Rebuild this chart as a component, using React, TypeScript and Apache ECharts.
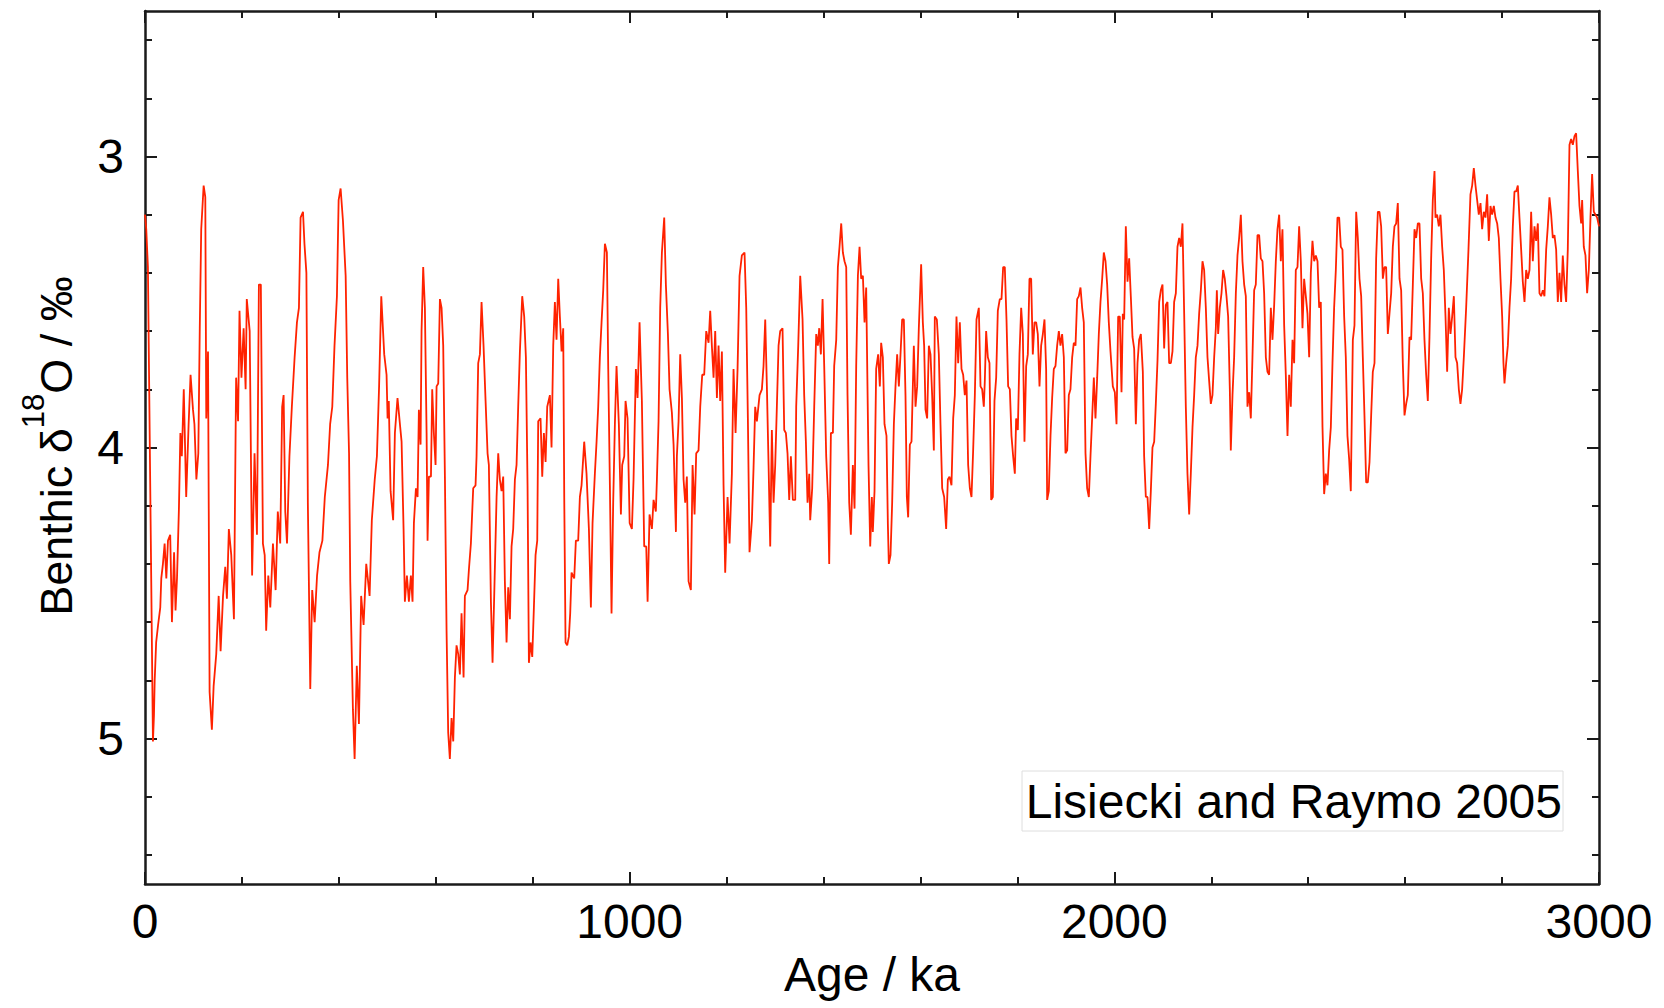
import React, { useEffect, useRef } from "react";
import * as echarts from "echarts";

// Age (ka) ticks and benthic d18O ticks
const ageMin = 0;
const ageMax = 3000;
const ageStep = 1000;
const d18oMin = 2.5;
const d18oMax = 5.5;
const d18oMajorTicks = [3, 4, 5];
const d18oMinorTicks = [2.6, 2.8, 3, 3.2, 3.4, 3.6, 3.8, 4, 4.2, 4.4, 4.6, 4.8, 5, 5.2, 5.4];

// LR04 benthic stack: [age ka, d18O permil]
const lr04_0_500 = [
  [0, 3.2], [2.6, 3.25], [6, 3.38], [16.4, 5.01], [18.5, 4.92], [20, 4.8], [23, 4.67], [27, 4.61], [31.5, 4.55],
  [33.6, 4.45], [37, 4.4], [40.5, 4.33], [44, 4.45], [47.4, 4.32], [52, 4.3], [55.6, 4.6], [60, 4.36],
  [63, 4.56], [66, 4.45], [70, 4.21], [73, 3.95], [76, 4.03], [80, 3.8], [85, 4.17], [90, 3.92], [94, 3.75],
  [99, 3.87], [102, 3.92], [106, 4.11], [110, 4.02], [113, 3.59], [116, 3.25], [121, 3.1], [124.4, 3.14],
  [126.4, 3.9], [130, 3.67], [133.3, 4.84], [138, 4.97], [141.6, 4.82], [147, 4.71], [152, 4.51], [156, 4.7],
  [161, 4.51], [165.6, 4.41], [169, 4.52], [173, 4.28], [178, 4.37], [183.5, 4.59], [188, 3.76], [192, 3.91],
  [195, 3.53], [199, 3.76], [203.5, 3.59], [207.6, 3.8], [210, 3.49], [216, 3.6], [221, 4.44], [226, 4.02],
  [231, 4.3], [235, 3.44], [239, 3.44], [243.3, 4.33], [247, 4.37], [250, 4.63], [254.4, 4.44], [258.5, 4.55],
  [264, 4.33], [269.5, 4.49], [274, 4.22], [279, 4.33], [283, 3.86], [286, 3.82], [289.4, 4.22], [293, 4.33],
  [298, 4.03], [303, 3.86], [308.7, 3.69], [313.5, 3.57], [317.6, 3.52], [321, 3.21], [326, 3.19], [329, 3.3],
  [333, 3.4], [336, 4.19], [341, 4.83], [345, 4.49], [350, 4.6], [355, 4.44], [360, 4.36], [366, 4.32],
  [371, 4.17], [377.5, 4.06], [382, 3.92], [386.4, 3.86], [391, 3.65], [396, 3.48], [399.5, 3.15], [403.6, 3.11],
  [408.4, 3.22], [414, 3.41], [417.3, 3.76], [421, 4.02], [423.5, 4.46], [429, 4.9], [432.5, 5.07], [437, 4.75],
  [441.4, 4.95], [446, 4.51], [451, 4.61], [456.5, 4.4], [463.4, 4.51], [468, 4.25], [474, 4.11], [478.5, 4.03],
  [483, 3.79], [487.5, 3.48],
];

const lr04_500_1000 = [
  [493.6, 3.68], [498.4, 3.75], [500.5, 3.9], [503, 3.84], [506.7, 4.15], [512, 4.25], [515.6, 3.95], [521, 3.83],
  [526, 3.92], [529.4, 3.98], [533.5, 4.28], [536.2, 4.53], [540.4, 4.44], [544.5, 4.53], [548.6, 4.44], [552, 4.53],
  [554.8, 4.26], [559, 4.14], [562.4, 4.17], [565.1, 3.87], [568.6, 3.99], [570.6, 3.6], [574, 3.38], [577.5, 3.52],
  [581, 3.95], [583, 4.32], [585.8, 4.1], [590, 4.1], [592.6, 3.8], [596, 3.95], [599.5, 4.06], [601.6, 3.79],
  [605, 3.78], [608.5, 3.49], [611.9, 3.52], [615.3, 3.65], [618.8, 4.1], [622.2, 4.63], [625.6, 4.98], [629, 5.07],
  [632.5, 4.93], [636, 5.01], [639.4, 4.79], [642.8, 4.68], [646.3, 4.71], [649.7, 4.78], [653.1, 4.57], [657.3, 4.79],
  [660, 4.51], [665.5, 4.49], [668.3, 4.42], [672.4, 4.33], [677.2, 4.14], [682, 4.13], [684.1, 4.03], [687.5, 3.71],
  [691, 3.68], [694.4, 3.5], [698.5, 3.65], [702.7, 3.84], [706.8, 4.02], [709.5, 4.06], [713.7, 4.53], [717.1, 4.74],
  [720.5, 4.51], [725.4, 4.17], [728.8, 4.02], [732.2, 4.11], [735.7, 4.15], [739.1, 4.1], [742.5, 4.46], [746, 4.67],
  [749.4, 4.48], [752.9, 4.59], [756.3, 4.34], [759.7, 4.28], [763.2, 4.11], [766.6, 4.06], [770, 3.86], [773.5, 3.67],
  [778.3, 3.48], [782.4, 3.55], [785.9, 3.69], [789.3, 4.13], [792.1, 4.74], [795.5, 4.67], [799, 4.72], [802.4, 4.55],
  [805.8, 4.37], [809.3, 4.32], [811.3, 3.91], [816.1, 3.9], [819.6, 4.1], [823, 3.95], [826.5, 4.05], [829.9, 3.86],
  [835.4, 3.82], [838.8, 4.0], [842.3, 3.65], [845.7, 3.5], [849.1, 3.63], [852.6, 3.42], [856, 3.55], [859.5, 3.67],
  [862.9, 3.59], [865, 4.17], [867.7, 4.67], [871.1, 4.68], [874.6, 4.65], [877.3, 4.57], [880.1, 4.43], [885.6, 4.45],
  [889, 4.32], [893.8, 4.32], [897.3, 4.17], [900.7, 4.13], [906.2, 3.98], [911, 4.09], [915.9, 4.28], [920, 4.55],
  [923.4, 4.26], [928.2, 4.09], [931.7, 3.98], [935.1, 3.86], [938.5, 3.69], [942, 3.57], [945.4, 3.46], [948.9, 3.3],
  [953, 3.33], [955.8, 3.73], [959.2, 4.13], [962.6, 4.57], [966, 4.19], [969.5, 3.92], [972.9, 3.72], [977.7, 3.92],
  [981.9, 4.23], [984.6, 4.06], [988.8, 4.03], [991.5, 3.84], [995.6, 3.9],
];

const lr04_1000_1500 = [
  [1000, 4.26], [1004.6, 4.28], [1008, 4.11], [1012.8, 3.73], [1016.3, 3.83], [1020.4, 3.57], [1025.2, 3.84],
  [1030, 4.34], [1034.2, 4.34], [1037, 4.53], [1041, 4.23], [1045.9, 4.28], [1049.3, 4.18], [1054, 4.22],
  [1056.2, 4.11], [1059.6, 3.91], [1063, 3.52], [1066.5, 3.33], [1071.3, 3.21], [1074.7, 3.44], [1078.9, 3.61],
  [1082.3, 3.8], [1087.1, 3.88], [1090.6, 3.99], [1095.4, 4.29], [1097.4, 4.03], [1100.9, 3.91], [1104.3, 3.68],
  [1107.8, 3.83], [1111.2, 4.11], [1114.6, 4.19], [1118, 4.1], [1121.5, 4.46], [1126.3, 4.49], [1129.8, 4.06],
  [1133.9, 4.23], [1137.3, 4.02], [1142.1, 4.01], [1145.6, 3.86], [1149.7, 3.75], [1153.8, 3.75], [1158, 3.6],
  [1162.8, 3.64], [1166.2, 3.53], [1169.6, 3.65], [1173.1, 3.76], [1176.5, 3.6], [1180, 3.83], [1183.4, 3.65],
  [1186.8, 3.84], [1190.3, 3.67], [1193.7, 4.13], [1197.1, 4.43], [1202, 4.17], [1206.1, 4.33], [1210.9, 4.09],
  [1214.3, 3.73], [1218.5, 3.95], [1222.6, 3.73], [1226.7, 3.41], [1231.5, 3.34], [1237, 3.33], [1240.5, 3.52],
  [1243.9, 3.9], [1247.3, 4.36], [1252.2, 4.25], [1255.6, 4.07], [1259, 3.86], [1262.5, 3.91], [1268, 3.82],
  [1272.8, 3.8], [1276.2, 3.72], [1279.7, 3.56], [1283.1, 3.79], [1286.6, 4.06], [1290, 4.34], [1293.4, 3.94],
  [1296.9, 4.19], [1300.3, 4.06], [1303.7, 3.86], [1307.2, 3.65], [1310.6, 3.6], [1315.4, 3.59], [1318.9, 3.94],
  [1322.3, 3.95], [1325.7, 4.02], [1329.2, 4.18], [1332.6, 4.03], [1336.7, 4.18], [1341.6, 4.18], [1343.6, 3.86],
  [1347.8, 3.65], [1351.9, 3.41], [1356.7, 3.56], [1360.1, 3.82], [1363.6, 3.98], [1367, 4.19], [1370.5, 4.09],
  [1372.5, 4.25], [1376.6, 4.14], [1380.8, 3.86], [1384.9, 3.61], [1388.3, 3.65], [1391.1, 3.59], [1394.5, 3.68],
  [1398, 3.49], [1401.4, 3.72], [1405.5, 4.03], [1409.6, 4.19], [1411.7, 4.4], [1415.2, 3.95], [1419.3, 3.95],
  [1422, 3.72], [1426.2, 3.63], [1429.6, 3.38], [1433, 3.31], [1436.5, 3.23], [1439.9, 3.33], [1443.3, 3.36],
  [1446.8, 3.38], [1449.5, 3.82], [1453, 4.19], [1456.4, 4.3], [1460.5, 4.06], [1464, 4.21], [1467.4, 3.72],
  [1470.9, 3.41], [1474.3, 3.31], [1477.7, 3.42], [1481.2, 3.41], [1484.6, 3.57], [1488, 3.45], [1492.8, 4.06],
  [1496.3, 4.34], [1499.7, 4.17],
];

const lr04_1500_2000 = [
  [1501.7, 4.29], [1505.2, 4.15], [1508.6, 3.73], [1512.7, 3.68], [1516.2, 3.79], [1518.9, 3.64], [1522.4, 3.69],
  [1525.8, 3.92], [1529.9, 3.96], [1532.7, 4.26], [1534.7, 4.4], [1538.2, 4.37], [1541.6, 4.19], [1545.1, 3.92],
  [1548.5, 3.79], [1551.9, 3.68], [1555.4, 3.79], [1558.8, 3.68], [1562.2, 3.56], [1565.7, 3.56], [1569.1, 3.82],
  [1571.9, 4.17], [1574.6, 4.24], [1578.1, 3.99], [1581.5, 3.98], [1586.3, 3.65], [1589.8, 3.86], [1593.2, 3.79],
  [1596.6, 3.59], [1601.4, 3.37], [1604.9, 3.57], [1607.6, 3.65], [1610.4, 3.87], [1613.8, 3.9], [1617.3, 3.65],
  [1620.7, 3.68], [1624.1, 3.82], [1627.6, 4.01], [1629.6, 3.55], [1633.8, 3.56], [1637.9, 3.68], [1641.3, 3.92],
  [1644.8, 4.14], [1648.9, 4.17], [1653, 4.28], [1656.5, 4.11], [1659.9, 4.1], [1664, 4.13], [1667.5, 3.9],
  [1670.9, 3.82], [1674.3, 3.55], [1677.8, 3.71], [1681.2, 3.57], [1684.7, 3.73], [1688.1, 3.75], [1691.5, 3.82],
  [1695, 3.77], [1698.4, 4.06], [1701.9, 4.14], [1705.3, 4.17], [1708.7, 4.01], [1712.2, 3.82], [1715.6, 3.56],
  [1720.4, 3.52], [1723.9, 3.79], [1727.3, 3.8], [1730.7, 3.86], [1732.8, 3.77], [1735.5, 3.6], [1739, 3.69],
  [1742.4, 3.71], [1745.9, 4.18], [1749.3, 4.17], [1752.7, 3.84], [1756.2, 3.76], [1759.6, 3.53], [1763.7, 3.49],
  [1767.2, 3.49], [1770.6, 3.38], [1774, 3.38], [1777.5, 3.56], [1780.9, 3.79], [1784.4, 3.8], [1787.8, 3.96],
  [1791.2, 4.03], [1794.7, 4.09], [1797.4, 3.9], [1800.9, 3.94], [1804.3, 3.68], [1807.8, 3.52], [1811.2, 3.61],
  [1814.6, 3.98], [1818.1, 3.72], [1821.5, 3.68], [1824.9, 3.42], [1828.4, 3.42], [1831.8, 3.68], [1835.3, 3.57],
  [1838.7, 3.57], [1842.1, 3.61], [1845.6, 3.79], [1849, 3.65], [1852.5, 3.61], [1855.9, 3.56], [1859.3, 3.73],
  [1861.4, 4.18], [1864.8, 4.15], [1868.3, 3.96], [1871.7, 3.83], [1875.1, 3.73], [1878.6, 3.72], [1882, 3.65],
  [1885.5, 3.6], [1888.9, 3.65], [1892.3, 3.61], [1895.8, 3.69], [1899.2, 4.02], [1902.7, 4.01], [1906.1, 3.82],
  [1909.5, 3.8], [1913, 3.69], [1916.4, 3.64], [1919.9, 3.65], [1923.3, 3.49], [1926.7, 3.48], [1930.2, 3.45],
  [1933.6, 3.52], [1937, 3.57], [1940.5, 4.02], [1943.9, 4.14], [1947.4, 4.17], [1950.8, 4.03], [1954.2, 3.9],
  [1957.7, 3.76], [1961.1, 3.9], [1964.6, 3.76], [1968, 3.61], [1971.4, 3.5], [1974.9, 3.42], [1978.3, 3.33],
  [1981.8, 3.36], [1985.2, 3.44], [1988.6, 3.57], [1992.1, 3.67], [1996.9, 3.79],
];

const lr04_2000_2500 = [
  [2001, 3.81], [2004.5, 3.92], [2007.9, 3.55], [2011.3, 3.55], [2014.8, 3.81], [2017.5, 3.54], [2020.3, 3.56],
  [2023.7, 3.24], [2027.2, 3.43], [2030.6, 3.35], [2034, 3.48], [2037.5, 3.62], [2040.9, 3.66], [2044.4, 3.92],
  [2047.8, 3.71], [2051.2, 3.63], [2054.7, 3.61], [2058.8, 3.74], [2061.5, 4.03], [2065, 4.17], [2068.4, 4.17],
  [2071.9, 4.28], [2075.3, 4.15], [2078.7, 4.0], [2082.2, 3.98], [2085.6, 3.85], [2089.1, 3.7], [2092.5, 3.5],
  [2095.9, 3.46], [2099.4, 3.44], [2102.8, 3.66], [2106.2, 3.51], [2109.7, 3.5], [2113.1, 3.71], [2116.6, 3.71],
  [2120, 3.67], [2123.4, 3.5], [2126.9, 3.47], [2130.3, 3.31], [2133.8, 3.28], [2137.2, 3.31], [2140.6, 3.23],
  [2144.1, 3.54], [2147.5, 3.86], [2150.9, 4.09], [2154.4, 4.23], [2157.8, 4.09], [2161.3, 3.93], [2164.7, 3.82],
  [2168.1, 3.69], [2171.6, 3.65], [2175, 3.54], [2178.5, 3.46], [2181.9, 3.36], [2185.3, 3.39], [2188.8, 3.52],
  [2192.2, 3.69], [2195.6, 3.77], [2199.1, 3.85], [2202.5, 3.82], [2206, 3.69], [2209.4, 3.59], [2211.5, 3.46],
  [2214.2, 3.61], [2217.6, 3.52], [2221.1, 3.47], [2224.5, 3.39], [2227.9, 3.42], [2231.4, 3.48], [2234.8, 3.55],
  [2238.3, 3.8], [2240.3, 4.01], [2243.8, 3.82], [2247.2, 3.69], [2250.7, 3.47], [2254.1, 3.34], [2257.5, 3.28],
  [2261, 3.2], [2264.4, 3.36], [2267.9, 3.44], [2271.3, 3.48], [2274.7, 3.86], [2278.2, 3.81], [2281.6, 3.9],
  [2285, 3.69], [2288.5, 3.46], [2291.9, 3.44], [2295.4, 3.27], [2298.8, 3.27], [2302.2, 3.35], [2305.7, 3.36],
  [2309.1, 3.47], [2312.6, 3.69], [2316, 3.74], [2319.4, 3.75], [2322.9, 3.52], [2326.3, 3.63], [2329.8, 3.51],
  [2333.2, 3.36], [2336.6, 3.25], [2340.1, 3.2], [2343.5, 3.36], [2346.9, 3.25], [2350.4, 3.58], [2353.8, 3.75],
  [2357.3, 3.96], [2360.7, 3.75], [2364.1, 3.86], [2367.6, 3.63], [2371, 3.71], [2374.4, 3.39], [2377.9, 3.38],
  [2381.3, 3.24], [2384.8, 3.36], [2388.2, 3.59], [2391.6, 3.42], [2395.1, 3.48], [2398.5, 3.54], [2402, 3.69],
  [2405.4, 3.4], [2408.8, 3.29], [2412.3, 3.36], [2415.7, 3.34], [2419.2, 3.36], [2422.6, 3.52], [2426, 3.5],
  [2429.5, 3.93], [2432.9, 4.16], [2436.3, 4.09], [2439.8, 4.13], [2443.2, 4.01], [2446.7, 3.93], [2450.1, 3.71],
  [2453.5, 3.52], [2457, 3.39], [2460.4, 3.21], [2463.9, 3.21], [2467.3, 3.31], [2470.7, 3.32], [2474.2, 3.55],
  [2477.6, 3.69], [2481, 3.96], [2484.5, 4.04], [2487.9, 4.15],
];

const lr04_2500_3000 = [
  [2492.1, 3.63], [2495.5, 3.58], [2499, 3.19], [2502.4, 3.28], [2505.8, 3.42], [2509.3, 3.48], [2512.7, 3.69],
  [2516.1, 3.89], [2519.6, 4.12], [2523, 4.12], [2526.5, 4.05], [2529.9, 3.89], [2533.3, 3.74], [2536.8, 3.71],
  [2540.2, 3.35], [2543.7, 3.19], [2547.1, 3.19], [2550.5, 3.24], [2554, 3.42], [2557.4, 3.38], [2560.8, 3.38],
  [2564.3, 3.61], [2567.7, 3.54], [2571.2, 3.47], [2574.6, 3.31], [2578, 3.24], [2581.5, 3.23], [2584.9, 3.16],
  [2588.4, 3.42], [2591.8, 3.46], [2595.2, 3.71], [2598.7, 3.89], [2602.1, 3.85], [2605.5, 3.82], [2609, 3.62],
  [2612.4, 3.63], [2615.9, 3.44], [2619.3, 3.25], [2622.7, 3.28], [2626.2, 3.23], [2629.6, 3.23], [2633.1, 3.42],
  [2636.5, 3.47], [2639.9, 3.63], [2643.4, 3.75], [2646.8, 3.84], [2650.2, 3.62], [2653.7, 3.35], [2657.1, 3.15],
  [2660.6, 3.05], [2662.6, 3.21], [2666, 3.2], [2669.5, 3.24], [2672.9, 3.2], [2676.4, 3.31], [2679.8, 3.39],
  [2683.3, 3.55], [2686.7, 3.74], [2690.1, 3.52], [2693.6, 3.61], [2697, 3.55], [2700.5, 3.48], [2703.9, 3.69],
  [2707.3, 3.71], [2710.8, 3.8], [2714.2, 3.85], [2717.6, 3.8], [2721.1, 3.69], [2725.9, 3.52], [2730.7, 3.32],
  [2734.8, 3.13], [2738.3, 3.1], [2741.7, 3.04], [2745.2, 3.1], [2748.6, 3.15], [2752, 3.2], [2755.5, 3.16],
  [2758.9, 3.25], [2762.3, 3.19], [2765.8, 3.21], [2769.2, 3.13], [2772.7, 3.29], [2776.1, 3.17], [2779.5, 3.2],
  [2783, 3.17], [2786.4, 3.21], [2789.9, 3.23], [2793.3, 3.28], [2796.7, 3.42], [2800.2, 3.55], [2802.9, 3.71],
  [2805, 3.78], [2808.4, 3.71], [2811.9, 3.65], [2815.3, 3.52], [2818.7, 3.42], [2822.2, 3.24], [2825.6, 3.12],
  [2829.1, 3.12], [2832.5, 3.1], [2835.9, 3.21], [2839.4, 3.32], [2842.8, 3.43], [2846.3, 3.5], [2849.7, 3.39],
  [2853.1, 3.42], [2856.6, 3.39], [2860, 3.19], [2863.4, 3.36], [2866.9, 3.24], [2870.3, 3.29], [2873.8, 3.23],
  [2877.2, 3.47], [2880.6, 3.48], [2884.1, 3.46], [2887.5, 3.48], [2891, 3.32], [2894.4, 3.24], [2897.8, 3.14],
  [2901.3, 3.2], [2904.7, 3.28], [2908.1, 3.27], [2911.6, 3.32], [2915, 3.5], [2918.5, 3.4], [2921.9, 3.5],
  [2925.3, 3.34], [2928.8, 3.44], [2932.2, 3.5], [2935.6, 3.32], [2939.1, 2.96], [2942.5, 2.94], [2946, 2.96],
  [2949.4, 2.93], [2952.8, 2.92], [2956.3, 3.05], [2959.7, 3.17], [2963.2, 3.23], [2965.2, 3.15], [2968.6, 3.31],
  [2972.1, 3.34], [2975.5, 3.47], [2979, 3.39], [2982.4, 3.21], [2985.8, 3.06], [2989.3, 3.19], [2992.7, 3.2],
  [2996.1, 3.21], [3000, 3.24],
];

const xTitle = "Age / ka";
const yTitleRich = "{a|Benthic δ}{s|18}{a|O / ‰}";
const sourceNote = "Lisiecki and Raymo 2005";

export default function App() {
  const ref = useRef<HTMLDivElement>(null);

  useEffect(() => {
    if (!ref.current) return;
    const chart = echarts.init(ref.current, null, { renderer: "svg" });
    const font = "'Liberation Sans', Arial, Helvetica, sans-serif";
    const ink = "#1a1a1a";
    const data = [
      ...lr04_0_500,
      ...lr04_500_1000,
      ...lr04_1000_1500,
      ...lr04_1500_2000,
      ...lr04_2000_2500,
      ...lr04_2500_3000,
    ];

    const lineStyle = { color: ink, width: 2.5 };
    const tickStyle = { color: ink, width: 2 };

    const xCommon = {
      type: "value",
      min: ageMin,
      max: ageMax,
      interval: ageStep,
      splitLine: { show: false },
      axisLine: { show: true, onZero: false, lineStyle },
      axisTick: { show: true, inside: true, length: 12, lineStyle: tickStyle },
      minorTick: { show: true, splitNumber: 5, length: 7, lineStyle: tickStyle },
    };

    const yCommon = {
      type: "value",
      min: d18oMin,
      max: d18oMax,
      inverse: true,
      splitLine: { show: false },
    };

    const yMinorAxis = (position: string, labels: boolean) => ({
      ...yCommon,
      position,
      axisLine: { show: true, onZero: false, lineStyle },
      axisTick: { show: true, inside: true, length: 7, customValues: d18oMinorTicks, lineStyle: tickStyle },
      axisLabel: labels
        ? {
            show: true,
            customValues: d18oMajorTicks,
            margin: 21,
            fontSize: 48,
            color: "#000",
            fontFamily: font,
            formatter: (v: number) => String(v),
          }
        : { show: false },
    });
    const yMajorAxis = (position: string) => ({
      ...yCommon,
      position,
      axisLine: { show: false, onZero: false },
      axisTick: { show: true, inside: true, length: 12, customValues: d18oMajorTicks, lineStyle: tickStyle },
      axisLabel: { show: false },
    });

    chart.setOption({
      animation: false,
      backgroundColor: "#ffffff",
      grid: { left: 145, right: 65, top: 11, bottom: 124, containLabel: false, outerBoundsMode: "none" },
      xAxis: [
        {
          ...xCommon,
          position: "bottom",
          axisLabel: {
            show: true,
            margin: 13,
            fontSize: 48,
            color: "#000",
            fontFamily: font,
            formatter: (v: number) => String(Math.round(v)),
          },
          name: xTitle,
          nameLocation: "middle",
          nameGap: 66,
          nameTextStyle: { fontSize: 48, color: "#000", fontFamily: font },
        },
        { ...xCommon, position: "top", axisLabel: { show: false } },
      ],
      yAxis: [yMinorAxis("left", true), yMajorAxis("left"), yMinorAxis("right", false), yMajorAxis("right")],
      series: [
        {
          type: "line",
          xAxisIndex: 0,
          yAxisIndex: 0,
          data,
          showSymbol: false,
          symbol: "none",
          clip: true,
          lineStyle: { color: "#ff2200", width: 1.8 },
          emphasis: { disabled: true },
        },
      ],
      graphic: [
        {
          type: "text",
          x: 48,
          y: 446,
          rotation: Math.PI / 2,
          silent: true,
          style: {
            text: yTitleRich,
            align: "center",
            textAlign: "center",
            verticalAlign: "middle",
            textVerticalAlign: "middle",
            fill: "#000",
            rich: {
              a: { fontSize: 45, fontFamily: font, fill: "#000", verticalAlign: "bottom", lineHeight: 45 },
              s: { fontSize: 31, fontFamily: font, fill: "#000", verticalAlign: "top", padding: [0, 0, 30, 0] },
            },
          },
        },
        {
          type: "rect",
          silent: true,
          shape: { x: 1022, y: 771, width: 541, height: 60 },
          style: { fill: "none", stroke: "#dedede", lineWidth: 1 },
        },
        {
          type: "text",
          x: 1562,
          y: 801,
          silent: true,
          style: {
            text: sourceNote,
            fontSize: 48,
            fontFamily: font,
            fill: "#000",
            align: "right",
            textAlign: "right",
            verticalAlign: "middle",
            textVerticalAlign: "middle",
          },
        },
      ],
    });

    return () => {
      chart.dispose();
    };
  }, []);

  return (
    <div
      ref={ref}
      style={{ position: "fixed", left: 0, top: 0, width: 1664, height: 1008, background: "#fff" }}
    />
  );
}
